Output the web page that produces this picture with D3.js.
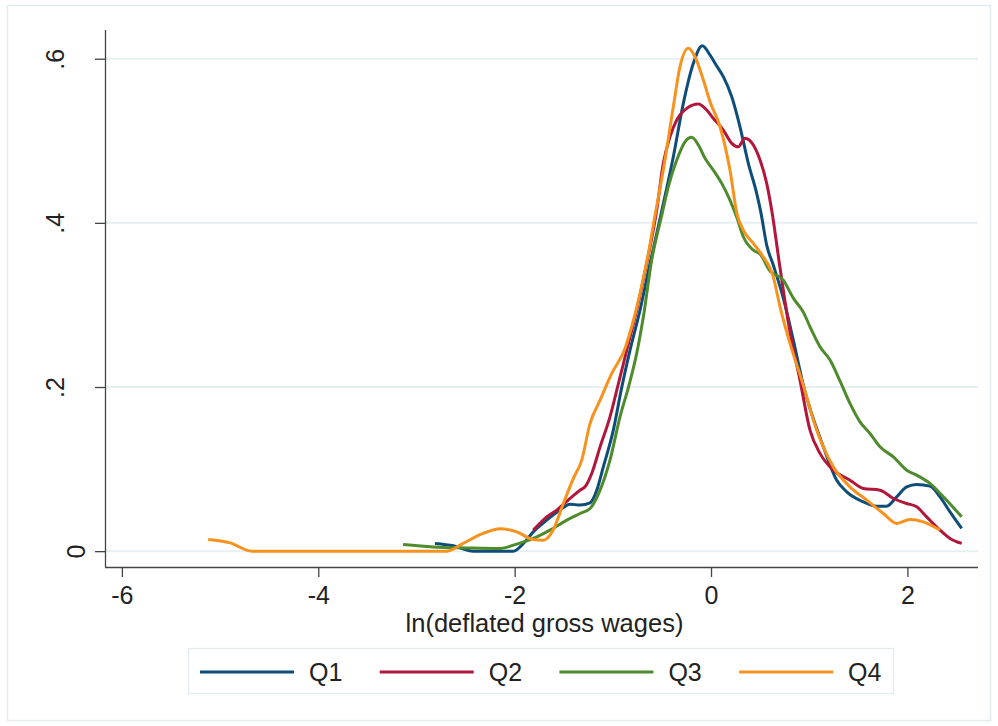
<!DOCTYPE html>
<html>
<head>
<meta charset="utf-8">
<script src="https://cdn.jsdelivr.net/npm/d3@7/dist/d3.min.js"></script>
<style>
  html, body { margin: 0; padding: 0; background: #ffffff; }
  svg { display: block; font-family: "Liberation Sans", Arial, sans-serif; }
</style>
</head>
<body>
<svg id="chart" width="998" height="726"></svg>
<script>
// ---- data ----
const seriesNames = ["Q1", "Q2", "Q3", "Q4"];
const seriesColors = ["#0e4d78", "#b2173b", "#4e8b2c", "#f8921e"];

const q1X = [-2.811,-2.624,-2.421,-2.013,-1.911,-1.810,-1.673,-1.538,-1.436,-1.334,-1.232,-1.164,-1.097,-0.995,-0.911,-0.825,-0.723,-0.621,-0.509,-0.384,-0.282,-0.180,-0.089,-0.010,0.041,0.125,0.211,0.295,0.380,0.465,0.509,0.567,0.634,0.736,0.838,0.940,1.144,1.280,1.382,1.551,1.687,1.789,1.891,1.993,2.095,2.230,2.332,2.434,2.553];
const q1Y = [0.0094,0.0065,0,0,0.0094,0.0235,0.0378,0.050,0.0573,0.0561,0.0589,0.0743,0.1027,0.1475,0.1987,0.245,0.2937,0.3506,0.4107,0.4806,0.5456,0.5944,0.6158,0.6045,0.5944,0.5781,0.5537,0.5171,0.4725,0.4359,0.4119,0.3729,0.3486,0.3083,0.2572,0.2023,0.1271,0.0865,0.0723,0.0601,0.0548,0.0548,0.0662,0.0784,0.0813,0.0792,0.0662,0.0479,0.0277];

const q2X = [-1.810,-1.673,-1.571,-1.436,-1.334,-1.283,-1.215,-1.130,-1.029,-0.947,-0.858,-0.757,-0.655,-0.553,-0.486,-0.418,-0.349,-0.247,-0.129,-0.044,0.023,0.125,0.211,0.278,0.346,0.431,0.499,0.567,0.621,0.703,0.804,0.906,1.008,1.110,1.245,1.415,1.551,1.721,1.857,1.993,2.095,2.196,2.332,2.434,2.553];
const q2Y = [0.0256,0.0418,0.050,0.0642,0.0743,0.0784,0.0947,0.1271,0.1637,0.2023,0.245,0.2937,0.3506,0.4156,0.4725,0.5049,0.5253,0.5395,0.5448,0.5375,0.5274,0.5131,0.4969,0.4927,0.503,0.4948,0.4765,0.4481,0.4132,0.3449,0.2669,0.2084,0.1475,0.1191,0.0987,0.0865,0.0764,0.0743,0.0642,0.0581,0.054,0.0418,0.0256,0.0155,0.0094];

const q3X = [-3.136,-2.828,-2.488,-2.149,-2.013,-1.810,-1.640,-1.469,-1.334,-1.232,-1.130,-1.029,-0.927,-0.835,-0.757,-0.689,-0.604,-0.499,-0.435,-0.349,-0.265,-0.197,-0.129,-0.061,0.023,0.109,0.193,0.265,0.329,0.431,0.499,0.601,0.736,0.838,0.940,1.008,1.110,1.212,1.314,1.415,1.517,1.619,1.721,1.857,1.993,2.095,2.230,2.366,2.553];
const q3Y = [0.0082,0.0052,0.004,0.0033,0.0073,0.0155,0.0256,0.0378,0.0459,0.052,0.0743,0.1109,0.1637,0.2023,0.241,0.2856,0.3547,0.4107,0.444,0.4765,0.4988,0.5042,0.4948,0.4786,0.4643,0.4481,0.4278,0.4058,0.3831,0.3668,0.362,0.3413,0.3303,0.3083,0.2913,0.2734,0.249,0.2328,0.2072,0.180,0.1576,0.1434,0.1271,0.1149,0.0987,0.0926,0.0825,0.0662,0.0418];

const q4X = [-5.122,-4.898,-4.677,-2.691,-2.525,-2.322,-2.149,-1.979,-1.813,-1.708,-1.609,-1.504,-1.402,-1.317,-1.232,-1.130,-1.011,-0.876,-0.808,-0.723,-0.638,-0.570,-0.486,-0.384,-0.316,-0.231,-0.163,-0.078,-0.010,0.092,0.193,0.265,0.329,0.431,0.519,0.634,0.703,0.804,0.924,1.076,1.245,1.415,1.586,1.755,1.891,2.026,2.162,2.332];
const q4Y = [0.0143,0.0101,0,0,0.0094,0.0216,0.0274,0.0235,0.0143,0.0134,0.0256,0.0581,0.0886,0.1109,0.1556,0.184,0.2166,0.247,0.2734,0.3141,0.3628,0.4095,0.4643,0.5415,0.5902,0.6127,0.6024,0.574,0.5476,0.5171,0.4643,0.4107,0.3912,0.375,0.3608,0.3343,0.2977,0.2531,0.2084,0.1475,0.1027,0.0784,0.0622,0.0459,0.0338,0.0386,0.0357,0.0256];

const xTicks = [-6, -4, -2, 0, 2];
const xTickLabels = ["-6", "-4", "-2", "0", "2"];
const yTicks = [0, 0.2, 0.4, 0.6];
const yTickLabels = ["0", ".2", ".4", ".6"];
const xTitle = "ln(deflated gross wages)";

// ---- layout ----
const svg = d3.select("#chart");
const W = 998, H = 726;
const plot = { left: 105, right: 978, top: 30, bottom: 567 };
const fontSize = 25;

const x = d3.scaleLinear().domain([-6.172, 2.719]).range([plot.left, plot.right]);
const y = d3.scaleLinear().domain([-0.0193, 0.635]).range([plot.bottom, plot.top]);

// outer frame
svg.append("rect").attr("x", 0).attr("y", 0).attr("width", W).attr("height", H).attr("fill", "#ffffff");
svg.append("rect").attr("x", 7.5).attr("y", 5.5).attr("width", 983).attr("height", 715)
  .attr("fill", "none").attr("stroke", "#e2ecef").attr("stroke-width", 1.5);

// gridlines
svg.append("g").selectAll("line").data(yTicks).join("line")
  .attr("x1", plot.left).attr("x2", plot.right)
  .attr("y1", d => y(d)).attr("y2", d => y(d))
  .attr("stroke", "#e6eff1").attr("stroke-width", 2);

// y axis
const yAxis = d3.axisLeft(y).tickValues(yTicks).tickSize(10).tickFormat((d, i) => yTickLabels[i]);
const gy = svg.append("g").attr("transform", `translate(${plot.left},0)`).call(yAxis);
gy.select(".domain").attr("d", `M0.5,${plot.top}V${plot.bottom}`).attr("stroke", "#444").attr("stroke-width", 1.3);
gy.selectAll(".tick line").attr("stroke", "#444").attr("stroke-width", 1.3);
gy.selectAll(".tick text")
  .attr("x", null).attr("dy", null)
  .attr("transform", (d, i) => `translate(${yTickLabels[i].startsWith(".") ? -41 : -20},0) rotate(-90)`)
  .attr("text-anchor", "middle")
  .attr("font-size", fontSize).attr("font-family", "Liberation Sans, Arial, sans-serif")
  .attr("fill", "#222");

// x axis
const xAxis = d3.axisBottom(x).tickValues(xTicks).tickSize(10).tickFormat((d, i) => xTickLabels[i]);
const gx = svg.append("g").attr("transform", `translate(0,${plot.bottom})`).call(xAxis);
gx.select(".domain").attr("d", `M${plot.left},0.5H${plot.right}`).attr("stroke", "#444").attr("stroke-width", 1.3);
gx.selectAll(".tick line").attr("stroke", "#444").attr("stroke-width", 1.3);
gx.selectAll(".tick text")
  .attr("y", 37).attr("dy", null)
  .attr("font-size", fontSize).attr("font-family", "Liberation Sans, Arial, sans-serif")
  .attr("fill", "#222");

svg.append("text").attr("x", (plot.left + plot.right) / 2 + 3).attr("y", 632)
  .attr("text-anchor", "middle").attr("font-size", 25.5).attr("fill", "#222")
  .text(xTitle);

// curves
const seriesX = [q1X, q2X, q3X, q4X];
const seriesY = [q1Y, q2Y, q3Y, q4Y];
const line = d3.line().x(d => x(d[0])).y(d => y(d[1])).curve(d3.curveMonotoneX);
svg.append("defs").append("clipPath").attr("id", "pclip")
  .append("rect").attr("x", plot.left + 1).attr("y", plot.top).attr("width", plot.right - plot.left).attr("height", plot.bottom - plot.top);
const gLines = svg.append("g").attr("clip-path", "url(#pclip)");
seriesNames.forEach((name, i) => {
  const pts = seriesX[i].map((v, j) => [v, seriesY[i][j]]);
  gLines.append("path").datum(pts).attr("d", line)
    .attr("fill", "none").attr("stroke", seriesColors[i]).attr("stroke-width", 3)
    .attr("stroke-linejoin", "round").attr("stroke-linecap", "butt");
});

// legend
const legend = svg.append("g");
legend.append("rect").attr("x", 188.5).attr("y", 648.5).attr("width", 705).attr("height", 45)
  .attr("fill", "#fff").attr("stroke", "#e2ecef").attr("stroke-width", 1.3);
const items = legend.selectAll("g.item").data(seriesNames).join("g").attr("class", "item")
  .attr("transform", (d, i) => `translate(${200 + i * 179.7},0)`);
items.append("line").attr("x1", 0).attr("x2", 94).attr("y1", 672).attr("y2", 672)
  .attr("stroke", (d, i) => seriesColors[i]).attr("stroke-width", 3);
items.append("text").attr("x", 109).attr("y", 681).attr("font-size", fontSize).attr("fill", "#222")
  .text(d => d);
</script>
</body>
</html>
